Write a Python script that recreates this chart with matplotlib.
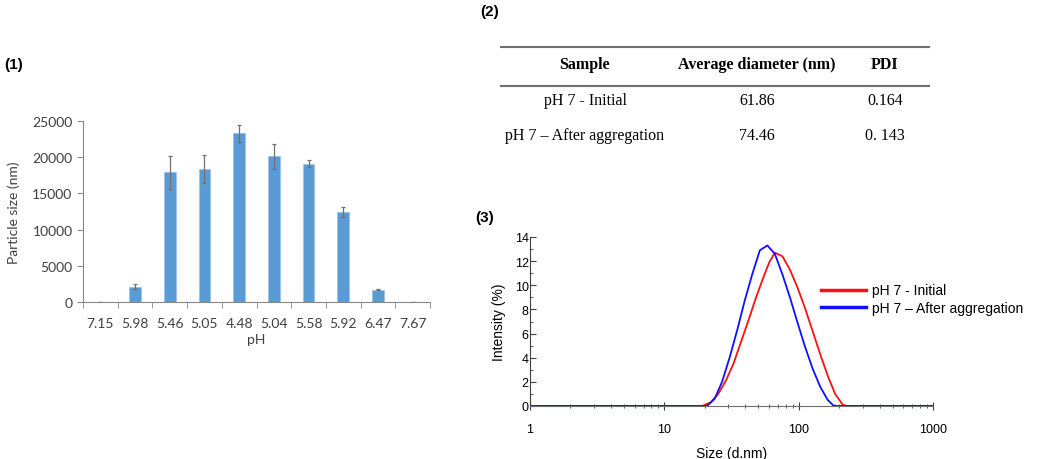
import matplotlib
matplotlib.use("Agg")
import matplotlib.pyplot as plt
from matplotlib.lines import Line2D
import numpy as np

# (1) particle size vs pH
ph_labels = ['7.15', '5.98', '5.46', '5.05', '4.48', '5.04', '5.58', '5.92', '6.47', '7.67']
size_nm = [60, 2100, 17900, 18400, 23300, 20100, 19100, 12400, 1700, 60]
size_err = [0, 350, 2300, 1900, 1200, 1700, 450, 700, 50, 0]

# (2) table
tbl_header = ['Sample', 'Average diameter (nm)', 'PDI']
tbl_rows = [['pH 7 - Initial', '61.86', '0.164'],
            ['pH 7 \u2013 After aggregation', '74.46', '0. 143']]

# (3) DLS intensity distributions
init_size = [1, 19.1, 22.1, 25.2, 28.7, 32.7, 37.2, 42.3, 48.2, 54.8, 60.4, 66.5,
             75.7, 86.1, 98.1, 111.6, 127, 144.6, 164.6, 187, 213, 229, 1000]
init_int = [0, 0, 0.3, 1.0, 2.1, 3.5, 5.3, 7.1, 9.0, 10.7, 11.9, 12.7,
            12.4, 11.3, 9.8, 8.1, 6.2, 4.3, 2.5, 1.0, 0.1, 0, 0]
aggr_size = [1, 20.8, 23.7, 26.9, 30.6, 34.9, 39.6, 45.1, 51.4, 58.5, 66.5,
             75.7, 86.1, 98.1, 111.6, 127, 144.6, 164.6, 181, 193, 1000]
aggr_int = [0, 0, 0.6, 2.0, 4.0, 6.3, 8.7, 10.9, 12.9, 13.3, 12.6,
            10.9, 9.0, 6.9, 4.9, 3.1, 1.6, 0.5, 0.05, 0, 0]

W, H = 1050, 460
fig = plt.figure(figsize=(W / 100, H / 100), dpi=100)

def fx(px):
    return px / W

def fy(py):
    return 1 - py / H

# ---------- (1) bar chart ----------
ax1 = fig.add_axes([fx(83), fy(303), fx(347), 181 / H])
x = np.arange(len(ph_labels))
ax1.bar(x, size_nm, width=0.34, color='#5B9BD5', edgecolor='#9DC3E6', linewidth=0.6,
        yerr=size_err, error_kw=dict(ecolor='#707070', elinewidth=0.9, capsize=1.5, capthick=0.9))
ax1.set_xlim(-0.5, len(ph_labels) - 0.5)
ax1.set_ylim(0, 25000)
ax1.set_yticks([0, 5000, 10000, 15000, 20000, 25000])
ax1.set_xticks(x)
ax1.set_xticklabels(ph_labels)
ax1.set_xticks(np.arange(-0.5, len(ph_labels)), minor=True)
ax1.tick_params(axis='x', which='major', length=0, pad=11, labelsize=10, colors='#404040')
ax1.tick_params(axis='x', which='minor', length=4, color='#888888')
ax1.tick_params(axis='y', length=4, color='#888888', labelsize=10, labelcolor='#404040')
for s in ['top', 'right']:
    ax1.spines[s].set_visible(False)
for s in ['left', 'bottom']:
    ax1.spines[s].set_color('#888888')
for t in ax1.get_xticklabels() + ax1.get_yticklabels():
    t.set_fontfamily('Lato')
ax1.set_xlabel('pH', fontsize=10, family='Lato', color='#404040', labelpad=3)
ax1.set_ylabel('Particle size (nm)', fontsize=10, family='Lato', color='#404040', labelpad=9)

fig.text(fx(4), fy(65), '(1)', fontsize=11, fontweight='bold', family='Liberation Sans',
         va='center', ha='left')

# ---------- (2) table ----------
fig.text(fx(480), fy(12), '(2)', fontsize=11, fontweight='bold', family='Liberation Sans',
         va='center', ha='left')
col_x = [585, 757, 885]
fig.add_artist(Line2D([fx(501), fx(929)], [fy(48), fy(48)], color='#707070', lw=1.5))
fig.add_artist(Line2D([fx(501), fx(929)], [fy(87), fy(87)], color='#707070', lw=1.5))
for cx, h in zip(col_x, tbl_header):
    fig.text(fx(cx), fy(65), h, fontsize=11.5, fontweight='bold', family='Liberation Serif',
             ha='center', va='center')
for ry, row in zip([101, 136], tbl_rows):
    for cx, val in zip(col_x, row):
        fig.text(fx(cx), fy(ry), val, fontsize=11.5, family='Liberation Serif',
                 ha='center', va='center')

# ---------- (3) DLS ----------
fig.text(fx(475), fy(218), '(3)', fontsize=11, fontweight='bold', family='Liberation Sans',
         va='center', ha='left')
ax3 = fig.add_axes([fx(530), fy(407), fx(403), 169 / H])
ax3.plot(init_size, init_int, color='#FF1010', lw=1.3, label='pH 7 - Initial')
ax3.plot(aggr_size, aggr_int, color='#1010FF', lw=1.3, label='pH 7 \u2013 After aggregation')
ax3.set_xscale('log')
ax3.set_xlim(1, 1000)
ax3.set_ylim(0, 14)
ax3.set_yticks(np.arange(0, 15, 2))
ax3.set_yticks(np.arange(1, 14, 2), minor=True)
for s in ['top', 'right']:
    ax3.spines[s].set_visible(False)
ax3.spines['left'].set_color('#404040')
ax3.spines['bottom'].set_color('#707070')
ax3.tick_params(axis='y', which='major', direction='in', length=4, pad=1, labelsize=9,
                color='#404040')
ax3.tick_params(axis='y', which='minor', direction='in', length=2, color='#404040')
ax3.tick_params(axis='x', which='major', direction='inout', length=6, pad=9, labelsize=9,
                color='#404040')
ax3.tick_params(axis='x', which='minor', direction='inout', length=3, color='#404040')
ax3.set_xticks([1, 10, 100, 1000])
ax3.set_xticklabels(['1', '10', '100', '1000'])
for t in ax3.get_xticklabels() + ax3.get_yticklabels():
    t.set_fontfamily('Liberation Sans')
ax3.set_xlabel('Size (d.nm)', fontsize=10, family='Liberation Sans', labelpad=8)
ax3.set_ylabel('Intensity (%)', fontsize=10, family='Liberation Sans', labelpad=6)
leg = ax3.legend(loc='upper left', bbox_to_anchor=(fx(808), fy(272)),
                 bbox_transform=fig.transFigure, frameon=False, fontsize=10,
                 handlelength=3.3, handletextpad=0.4, labelspacing=0.25,
                 prop={'family': 'Liberation Sans', 'size': 10})
for ln in leg.get_lines():
    ln.set_linewidth(2.5)

fig.savefig('out.png', dpi=100)
